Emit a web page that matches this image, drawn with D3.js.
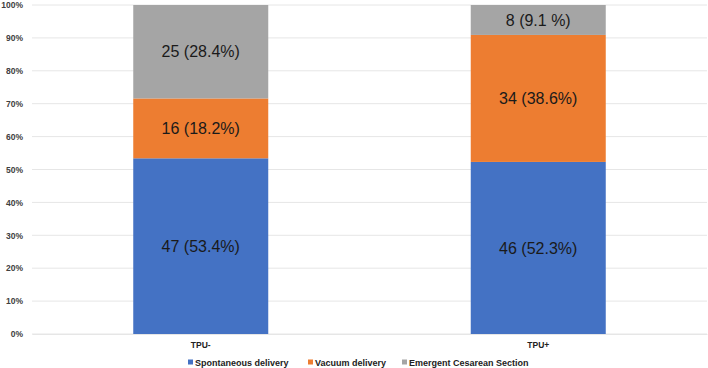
<!DOCTYPE html>
<html>
<head>
<meta charset="utf-8">
<script src="https://cdn.jsdelivr.net/npm/d3@7"></script>
<style>
  body { margin: 0; background: #fff; }
  svg { display: block; font-family: "Liberation Sans", Arial, sans-serif; }
</style>
</head>
<body>
<svg id="chart"></svg>
<script>
// Data
const groups = ["TPU-", "TPU+"];
const seriesNames = ["Spontaneous delivery", "Vacuum delivery", "Emergent Cesarean Section"];
const seriesColors = ["#4472C4", "#ED7D31", "#A5A5A5"];
const spontaneous = [53.4, 52.3];
const vacuum = [18.2, 38.6];
const cesarean = [28.4, 9.1];
const spontaneousLabels = ["47 (53.4%)", "46 (52.3%)"];
const vacuumLabels = ["16 (18.2%)", "34 (38.6%)"];
const cesareanLabels = ["25 (28.4%)", "8 (9.1 %)"];
const yTicks = [0, 10, 20, 30, 40, 50, 60, 70, 80, 90, 100];

const totalW = 708, totalH = 368;
const margin = {top: 5, right: 1, bottom: 34, left: 32},
width = totalW - margin.left - margin.right,
height = totalH - margin.top - margin.bottom;

const svg = d3.select("#chart")
.attr("width", totalW)
.attr("height", totalH)
.append("g")
.attr("transform", `translate(${margin.left},${margin.top})`);

// Build stacked rows
const rows = groups.map((g, i) => ({
    group: g,
    "Spontaneous delivery": spontaneous[i],
    "Vacuum delivery": vacuum[i],
    "Emergent Cesarean Section": cesarean[i]
}));
const labels = [spontaneousLabels, vacuumLabels, cesareanLabels];

const stack = d3.stack().keys(seriesNames);
const stacked = stack(rows);

// Scales
const x = d3.scaleBand()
    .domain(groups)
    .range([0, width])
    .paddingInner(0.6)
    .paddingOuter(0.3);

const y = d3.scaleLinear()
    .domain([0, 100])
    .range([height, 0]);

// Gridlines
svg.append("g")
    .selectAll("line")
    .data(yTicks)
    .join("line")
    .attr("x1", 0)
    .attr("x2", width)
    .attr("y1", d => y(d))
    .attr("y2", d => y(d))
    .attr("stroke", "#e6e6e6")
    .attr("stroke-width", 1);

// Y axis
const yAxis = svg.append("g")
    .call(d3.axisLeft(y).tickValues(yTicks).tickFormat(d => d + "%").tickSize(0).tickPadding(9));
yAxis.select(".domain").remove();
yAxis.selectAll("text")
    .style("font-size", "8.5px")
    .style("font-weight", "bold")
    .style("font-family", "Liberation Sans, Arial, sans-serif")
    .attr("fill", "#404040");

// Bars
const layers = svg.selectAll(".layer")
    .data(stacked)
    .join("g")
    .attr("class", "layer")
    .attr("fill", (d, i) => seriesColors[i]);

layers.selectAll("rect")
    .data(d => d)
    .join("rect")
    .attr("x", d => x(d.data.group))
    .attr("y", d => y(d[1]))
    .attr("width", x.bandwidth())
    .attr("height", d => y(d[0]) - y(d[1]));

// Segment labels
stacked.forEach((layer, si) => {
    svg.append("g")
        .selectAll("text")
        .data(layer)
        .join("text")
        .attr("x", d => x(d.data.group) + x.bandwidth() / 2)
        .attr("y", d => y((d[0] + d[1]) / 2))
        .attr("dy", "0.35em")
        .attr("text-anchor", "middle")
        .style("font-size", "16px")
        .attr("fill", "#1a1a1a")
        .text((d, i) => labels[si][i]);
});

// X axis
const xAxis = svg.append("g")
    .attr("transform", `translate(0,${height})`)
    .call(d3.axisBottom(x).tickSize(0).tickPadding(8));
xAxis.select(".domain").attr("stroke", "#e6e6e6");
xAxis.selectAll("text")
    .style("font-size", "8.5px")
    .style("font-weight", "bold")
    .style("font-family", "Liberation Sans, Arial, sans-serif")
    .attr("fill", "#222");

// Legend
const legendX = [188, 308, 402];
const legend = svg.append("g")
    .attr("transform", `translate(${-margin.left},${height + 28.5})`);
const items = legend.selectAll("g")
    .data(seriesNames)
    .join("g")
    .attr("transform", (d, i) => `translate(${legendX[i]},0)`);
items.append("rect")
    .attr("x", 0)
    .attr("y", -3)
    .attr("width", 5)
    .attr("height", 5)
    .attr("fill", (d, i) => seriesColors[i]);
items.append("text")
    .attr("x", 7)
    .attr("y", 0)
    .attr("dy", "0.35em")
    .style("font-size", "9px")
    .style("font-weight", "bold")
    .attr("fill", "#222")
    .text(d => d);
</script>
</body>
</html>
